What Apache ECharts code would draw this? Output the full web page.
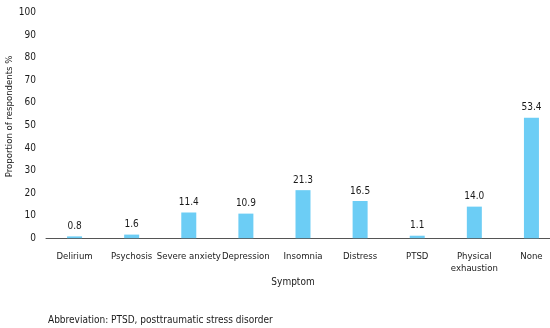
<!DOCTYPE html>
<html><head><meta charset="utf-8">
<script src="https://cdn.jsdelivr.net/npm/echarts@6/dist/echarts.min.js"></script>
<style>html,body{margin:0;padding:0;background:#fff}#c{width:550px;height:328px}</style>
</head><body><div id="c"></div>
<script>
const categories = ["Delirium","Psychosis","Severe anxiety","Depression","Insomnia","Distress","PTSD","Physical\nexhaustion","None"];
const values = [0.8,1.6,11.4,10.9,21.3,16.5,1.1,14.0,53.4];
const yTicks = [0,10,20,30,40,50,60,70,80,90,100];
const FONT = '"DejaVu Sans Condensed","Liberation Sans Narrow",sans-serif';
const chart = echarts.init(document.getElementById('c'), null, {renderer:'canvas'});
chart.setOption({
  animation:false,
  textStyle:{fontFamily:FONT},
  title:{text:'Abbreviation: PTSD, posttraumatic stress disorder',left:43,top:310,
    textStyle:{fontFamily:FONT,fontSize:10,fontWeight:'normal',color:'#1a1a1a'}},
  grid:{left:46,top:12.7,right:-10,height:225.5,containLabel:false,outerBoundsMode:'none'},
  xAxis:{type:'category',data:categories,
    name:'Symptom',nameLocation:'middle',nameGap:39,nameMoveOverlap:false,
    nameTextStyle:{fontFamily:FONT,fontSize:10,color:'#1a1a1a',padding:[0,20,0,0]},
    axisLine:{lineStyle:{color:'#555',width:1}},axisTick:{show:false},
    axisLabel:{interval:0,margin:12,fontFamily:FONT,fontSize:9.5,color:'#1a1a1a',lineHeight:12}},
  yAxis:{type:'value',min:0,max:100,interval:10,
    name:'Proportion of respondents %',nameLocation:'middle',nameGap:31,nameMoveOverlap:false,
    nameTextStyle:{fontFamily:FONT,fontSize:9.5,color:'#1a1a1a',padding:[0,0,0,18]},
    axisLine:{show:false},axisTick:{show:false},splitLine:{show:false},
    axisLabel:{margin:10,fontFamily:FONT,fontSize:10,color:'#1a1a1a',
      formatter:v=>yTicks.includes(v)?String(v):''}},
  series:[{type:'bar',data:values,barWidth:15,
    itemStyle:{color:'#6CCDF5'},
    label:{show:true,position:'top',distance:5,fontFamily:FONT,fontSize:10,color:'#1a1a1a',
      formatter:p=>p.value.toFixed(1)}}]
});
</script></body></html>
